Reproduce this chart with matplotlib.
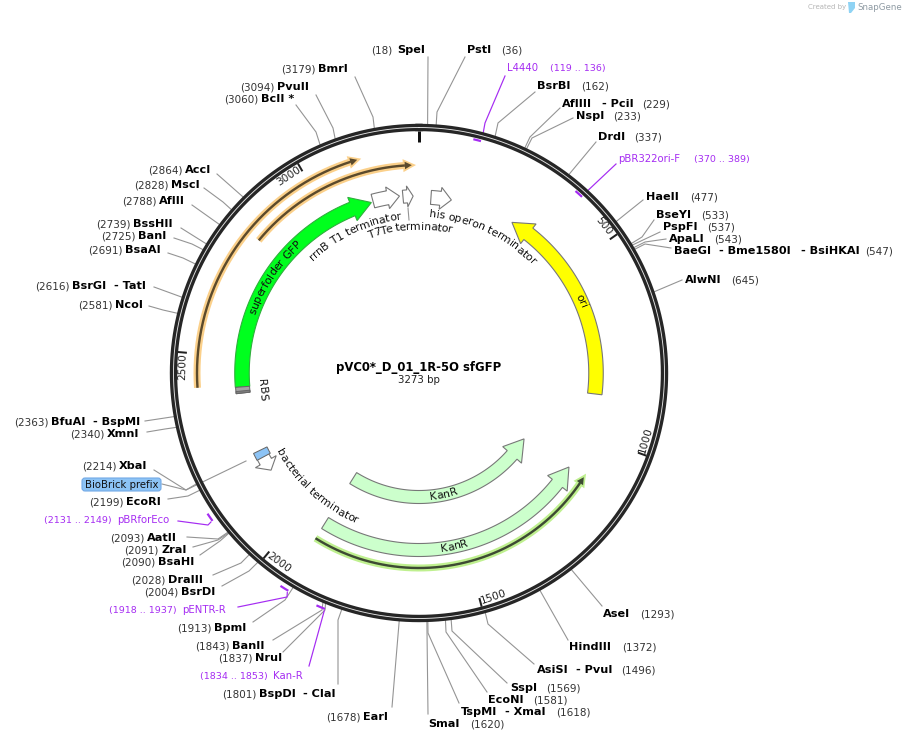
import numpy as np
import matplotlib
matplotlib.use("Agg")
import matplotlib.pyplot as plt
from matplotlib.patches import Polygon, FancyBboxPatch
from matplotlib.font_manager import FontProperties
from matplotlib.textpath import text_to_path

# ---------- data ----------
PLASMID_NAME = "pVC0*_D_01_1R-5O sfGFP"
PLASMID_LEN = 3273
TICKS = [500, 1000, 1500, 2000, 2500, 3000]

# restriction sites: label parts, position
site_names = ["SpeI", "PstI", "BsrBI", "AflIII|- PciI", "NspI", "DrdI", "HaeII", "BseYI", "PspFI", "ApaLI",
              "BaeGI|- Bme1580I|- BsiHKAI", "AlwNI", "AseI", "HindIII", "AsiSI|- PvuI", "SspI", "EcoNI",
              "TspMI|- XmaI", "SmaI", "EarI", "BspDI|- ClaI", "NruI", "BanII", "BpmI", "BsrDI", "DraIII",
              "BsaHI", "ZraI", "AatII", "EcoRI", "XbaI", "XmnI", "BfuAI|- BspMI", "NcoI", "BsrGI|- TatI",
              "BsaAI", "BanI", "BssHII", "AflII", "MscI", "AccI", "BcII *", "PvuII", "BmrI"]
site_bp = [18, 36, 162, 229, 233, 337, 477, 533, 537, 543, 547, 645, 1293, 1372, 1496, 1569, 1581, 1618, 1620,
           1678, 1801, 1837, 1843, 1913, 2004, 2028, 2090, 2091, 2093, 2199, 2214, 2340, 2363, 2581, 2616,
           2691, 2725, 2739, 2788, 2828, 2864, 3060, 3094, 3179]

# primers: name, start, end
primer_names = ["L4440", "pBR322ori-F", "pBRforEco", "pENTR-R", "Kan-R"]
primer_start = [119, 370, 2131, 1918, 1834]
primer_end = [136, 389, 2149, 1937, 1853]

# ---------- layout (pixel space of the 905x741 canvas) ----------
# x of every name part, y of the row, x of the "(pos)" text
site_x = [[397], [467], [537], [562, 602], [576], [598], [646], [656], [663], [669],
          [674, 719, 801], [685], [603], [569], [537, 576], [510], [488], [461, 505], [428], [363],
          [259, 303], [255], [232], [214], [181], [168], [158], [161], [147], [126], [119], [107],
          [51, 93], [115], [72, 114], [125], [138], [133], [159], [171], [185], [261], [277], [318]]
site_y = [50, 50, 86, 104, 116, 137, 197, 215, 227, 239, 251, 280, 614, 647, 670, 688, 700, 712, 724, 717, 694,
          658, 646, 628, 592, 580, 562, 550, 538, 502, 466, 434, 422, 305, 286, 250, 236, 224, 201, 185, 170,
          99, 87, 69]
pos_x = [371, 501, 581, 642, 613, 634, 690, 701, 707, 714, 865, 731, 640, 622, 621, 546, 533, 556, 470, 326,
         222, 218, 195, 177, 144, 131, 121, 124, 110, 89, 82, 70, 14, 78, 35, 88, 101, 96, 122, 134, 148, 224,
         240, 281]
site_leader = [[(428, 57)], [(465, 57), (437, 112)], [(535, 92), (498, 123)], [(560, 108), (530, 137)],
               [(573, 118), (532, 138)], [(596, 142)], [(643, 200)], [(654, 220), (642, 237)],
               [(660, 232), (643, 240)], [(666, 239), (645, 242)], [(671, 248), (645, 244)], [(682, 280)],
               [(602, 606)], [(568, 640)], [(534, 664), (488, 624)], [(507, 683), (452, 631)],
               [(487, 692), (446, 632)], [(459, 703), (428, 633)], [(428, 714)], [(392, 707)],
               [(338, 684), (338, 620)], [(283, 652), (325, 610)], [(273, 640), (322, 610)],
               [(253, 622), (285, 600)], [(222, 586), (249, 571)], [(213, 575), (241, 563)],
               [(200, 555), (220, 541)], [(193, 547), (218, 540)], [(187, 537), (218, 539)],
               [(168, 499), (188, 496)], [(154, 470), (186, 490)], [(147, 432), (165, 429)], [(145, 421)],
               [(149, 306), (163, 310)], [(154, 287)], [(168, 253), (183, 258)], [(174, 238), (192, 244)],
               [(181, 228)], [(192, 205)], [(204, 188), (223, 202)], [(217, 174)], [(296, 105), (316, 132)],
               [(316, 95), (333, 128)], [(355, 77), (373, 117)]]

primer_x = [507, 618, 117, 182, 273]
primer_y = [68, 159, 520, 610, 676]
primer_pos_x = [550, 694, 44, 109, 200]
primer_leader = [[(505, 76), (485, 123)], [(616, 164)], [(178, 521), (208, 525)], [(238, 607), (287, 597)],
                 [(309, 666)]]
primer_anchor = ["end", "end", "start", "start", "start"]
primer_mark_r = [240, 240, 254, 254, 254]   # forward primers inside the ring, reverse outside
primer_leader_r = [249, 249, 256, 256, 256]

# ---------- helpers ----------
DPI = 100
CX, CY = 419.0, 373.0
PX = 72.0 / DPI
DARK = "#262626"
LEAD = "#949494"
PURPLE = "#a52cf2"
FONT = "DejaVu Sans"

plt.rcParams["font.family"] = FONT
fig = plt.figure(figsize=(9.05, 7.41), dpi=DPI)
ax = fig.add_axes([0, 0, 1, 1])
ax.set_xlim(0, 905)
ax.set_ylim(741, 0)
ax.axis("off")


def theta(bp):
    return np.asarray(bp, dtype=float) / PLASMID_LEN * 2 * np.pi


def polar(bp, r):
    t = theta(bp)
    return CX + r * np.sin(t), CY - r * np.cos(t)


def arc(b0, b1, r, n=200):
    return polar(np.linspace(b0, b1, n), r)


def arrow_poly(tail, tip, r, width, head_w, head_px):
    """Curved arrow polygon from bp tail to bp tip."""
    sign = 1 if tip > tail else -1
    head_bp = head_px / r * PLASMID_LEN / (2 * np.pi)
    base = tip - sign * head_bp
    xo, yo = arc(tail, base, r + width / 2)
    xi, yi = arc(base, tail, r - width / 2)
    hx0, hy0 = polar(base, r + head_w / 2)
    hx1, hy1 = polar(base, r - head_w / 2)
    tx, ty = polar(tip, r)
    xs = list(xo) + [hx0, tx, hx1] + list(xi)
    ys = list(yo) + [hy0, ty, hy1] + list(yi)
    return np.column_stack([xs, ys])


def draw_arrow(tail, tip, r, width, head_w, head_px, fc, ec="#777777", z=4):
    ax.add_patch(Polygon(arrow_poly(tail, tip, r, width, head_w, head_px), closed=True, fc=fc, ec=ec,
                         lw=1.1 * PX, zorder=z, joinstyle="miter"))


def band(b0, b1, r0, r1, fc, ec="#666666", z=5):
    x0, y0 = arc(b0, b1, r1, 10)
    x1, y1 = arc(b1, b0, r0, 10)
    ax.add_patch(Polygon(np.column_stack([np.r_[x0, x1], np.r_[y0, y1]]), closed=True, fc=fc, ec=ec,
                         lw=1.0 * PX, zorder=z))


def highlight_line(tail, tip, r, pale, dark):
    sign = 1 if tip > tail else -1
    head_bp = 7 / r * PLASMID_LEN / (2 * np.pi)
    x, y = arc(tail, tip - sign * head_bp, r)
    ax.plot(x, y, color=pale, lw=7 * PX, solid_capstyle="butt", zorder=3)
    ax.add_patch(Polygon(arrow_poly(tip - sign * head_bp * 1.2, tip + sign * head_bp * 0.6, r, 7, 13, 13),
                         closed=True, fc=pale, ec="none", zorder=3))
    ax.plot(x, y, color=dark, lw=2.4 * PX, solid_capstyle="butt", zorder=4)
    ax.add_patch(Polygon(arrow_poly(tip - sign * head_bp * 1.05, tip, r, 2.4, 7.5, 7), closed=True,
                         fc=dark, ec="none", zorder=4))


def str_width_px(s, size, weight="normal"):
    fp = FontProperties(family=FONT, size=size, weight=weight)
    w, _, _ = text_to_path.get_text_width_height_descent(s, fp, False)
    return w * DPI / 72.0


def curved_text(s, mid_deg, r, size, outward=True, color="#111111"):
    total = str_width_px(s, size)
    for i, ch in enumerate(s):
        if ch == " ":
            continue
        w0 = str_width_px(s[:i], size) if i else 0
        w1 = str_width_px(s[:i + 1], size)
        off = (w0 + w1) / 2 - total / 2
        dd = np.degrees(off / r)
        d = mid_deg + dd if outward else mid_deg - dd
        t = np.radians(d)
        x, y = CX + r * np.sin(t), CY - r * np.cos(t)
        rot = -d if outward else 180 - d
        ax.text(x, y, ch, fontsize=size, color=color, rotation=rot, rotation_mode="anchor",
                ha="center", va="center", zorder=6)


def bp_of_deg(d):
    return d / 360.0 * PLASMID_LEN


# ---------- leaders (under the ring) ----------
for bp, pts in zip(site_bp, site_leader):
    ex, ey = polar(bp, 249)
    xs = [p[0] for p in pts] + [float(ex)]
    ys = [p[1] for p in pts] + [float(ey)]
    ax.plot(xs, ys, color=LEAD, lw=1.1 * PX, zorder=1, solid_joinstyle="miter")

for start, end, anchor, pts, lr in zip(primer_start, primer_end, primer_anchor, primer_leader, primer_leader_r):
    ex, ey = polar(end if anchor == "end" else start, lr)
    xs = [p[0] for p in pts] + [float(ex)]
    ys = [p[1] for p in pts] + [float(ey)]
    ax.plot(xs, ys, color=PURPLE, lw=1.2 * PX, zorder=1)

# BioBrick prefix leader, crossing the ring
ax.plot([162, 186, 246], [484, 490, 461], color=LEAD, lw=1.1 * PX, zorder=1)

# ---------- backbone ----------
tt = np.linspace(0, PLASMID_LEN, 721)
rx, ry = polar(tt, 245.5)
ax.plot(rx, ry, color=DARK, lw=7.4 * PX, zorder=2)
ax.plot(rx, ry, color="#e4e4e4", lw=0.9 * PX, zorder=2.1)

# ticks
x, y = zip(polar(0, 242), polar(0, 231))
ax.plot(x, y, color="#111111", lw=3 * PX, zorder=3, solid_capstyle="butt")
for t in TICKS:
    x, y = zip(polar(t, 242), polar(t, 233))
    ax.plot(x, y, color="#222222", lw=2 * PX, zorder=3, solid_capstyle="butt")
    d = float(np.degrees(theta(t))) - 3.5
    xt, yt = polar(bp_of_deg(d), 236)
    rot = -d if (d < 90 or d > 270) else 180 - d
    ax.text(xt, yt, str(t), fontsize=7.6, color="#222222", rotation=rot, rotation_mode="anchor",
            ha="center", va="center", zorder=6)

# primer marks
for s, e, mr in zip(primer_start, primer_end, primer_mark_r):
    x, y = arc(s, e, mr, 20)
    ax.plot(x, y, color=PURPLE, lw=2.2 * PX, zorder=3, solid_capstyle="butt")

# ---------- features ----------
draw_arrow(880, 288, 177, 14.5, 25, 20, "#ffff00")
draw_arrow(2414, 3131, 177, 14.5, 25, 20, "#00ff1e", ec="#2fae3c")
# RBS block at GFP start
band(2396, 2414, 170, 184, "#a4a4a4")
band(2396, 2402, 170, 184, "#808080")

highlight_line(2420, 3126, 222, "#fbd08a", "#5b4a2c")
highlight_line(2815, 3255, 208, "#fbd08a", "#5b4a2c")
highlight_line(1928, 1112, 195, "#bff08f", "#3d4a33")

draw_arrow(1928, 1110, 124, 13, 25, 20, "#ccffcc")
draw_arrow(1928, 1110, 177, 13, 25, 20, "#ccffcc")

# terminators
draw_arrow(bp_of_deg(-15.0) + PLASMID_LEN, bp_of_deg(-6.3) + PLASMID_LEN, 178, 14, 22, 12, "white")
draw_arrow(bp_of_deg(-5.2) + PLASMID_LEN, bp_of_deg(-1.9) + PLASMID_LEN, 177, 13, 21, 6, "white")
draw_arrow(bp_of_deg(3.9), bp_of_deg(10.6), 176, 14, 22, 11, "white")
ax.plot([408, 409], [208, 220], color=LEAD, lw=1.1 * PX, zorder=3)

# bacterial terminator with BioBrick prefix
draw_arrow(2199, 2152, 177, 13, 24, 10, "white")
band(2197, 2219, 169, 184, "#8cc3f5")

# feature captions
curved_text("rrnB T1 terminator", -25, 157.5, 7.8)
curved_text("T7Te terminator", -3.7, 146.5, 7.8)
curved_text("his operon terminator", 25, 159, 7.8)
curved_text("superfolder GFP", -56.5, 177, 7.8)
curved_text("bacterial terminator", 222, 160, 7.8, outward=False)
curved_text("KanR", 168.5, 124, 7.8, outward=False)
curved_text("KanR", 168.5, 177, 7.8, outward=False)
curved_text("ori", 66, 177, 7.8)
curved_text("RBS", 263.8, 158, 7.8, outward=False)

# ---------- site labels ----------
for name, bp, xs, y, px in zip(site_names, site_bp, site_x, site_y, pos_x):
    for part, x in zip(name.split("|"), xs):
        ax.text(x, y, part, fontsize=8.1, fontweight="bold", color="black", ha="left", va="center", zorder=6)
    ax.text(px, y + 0.5, f"({bp})", fontsize=7.5, color="#333333", ha="left", va="center", zorder=6)

for name, s, e, x, y, px in zip(primer_names, primer_start, primer_end, primer_x, primer_y, primer_pos_x):
    ax.text(x, y, name, fontsize=7.3, color=PURPLE, ha="left", va="center", zorder=6)
    ax.text(px, y + 0.5, f"({s} .. {e})", fontsize=6.8, color=PURPLE, ha="left", va="center", zorder=6)

# BioBrick prefix label
ax.add_patch(FancyBboxPatch((82, 478), 79, 13, boxstyle="round,pad=0,rounding_size=3", fc="#8cc3f5",
                            ec="#72a9e6", lw=0.8, zorder=5, mutation_aspect=1))
ax.text(121.5, 484.5, "BioBrick prefix", fontsize=7.3, color="#111111", ha="center", va="center", zorder=6)

# centre
ax.text(419, 368, PLASMID_NAME, fontsize=8.4, fontweight="bold", color="black", ha="center", va="center", zorder=6)
ax.text(419, 380, f"{PLASMID_LEN} bp", fontsize=7.4, color="#222222", ha="center", va="center", zorder=6)

# watermark
ax.text(808, 7.5, "Created by", fontsize=5.0, color="#b5b5b5", ha="left", va="center")
ax.add_patch(Polygon([(848, 2), (855, 2), (855, 8), (851, 13), (849, 13)], closed=True, fc="#8fd3f4", ec="none"))
ax.text(857, 7.5, "SnapGene", fontsize=6.2, color="#8e9aa3", ha="left", va="center")

fig.savefig("out.png", dpi=DPI, facecolor="white")
